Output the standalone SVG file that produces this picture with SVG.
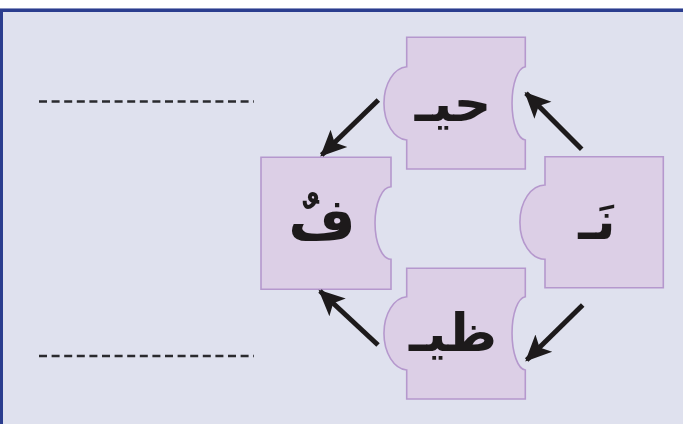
<svg xmlns="http://www.w3.org/2000/svg" width="683" height="424" viewBox="0 0 683 424">
<style>
.piece{fill:#dccfe6;stroke:#b598cd;stroke-width:1.6}
.lbl{font-family:"DejaVu Sans",sans-serif;font-weight:bold;font-size:52px;fill:#1d1a1b;text-anchor:middle}
.arrow{stroke:#1d1a1b;stroke-width:5;fill:none;marker-end:url(#ah)}
.dash{stroke:#2a2a2e;stroke-width:2.6;stroke-dasharray:8 4.6}
</style>
<defs>
<marker id="ah" markerUnits="userSpaceOnUse" markerWidth="28" markerHeight="28" viewBox="0 0 28 28" refX="24" refY="14" orient="auto">
<path d="M0,2 L26,14 L0,26 L6,14 Z" fill="#1d1a1b"/>
</marker>
</defs>
<rect x="0" y="0" width="683" height="424" fill="#ffffff"/>
<rect x="0" y="8" width="683" height="416" fill="#dfe1ee"/>
<rect x="0" y="8" width="683" height="1" fill="#8a94c2"/>
<rect x="0" y="9" width="683" height="3" fill="#2b3d8e"/>
<rect x="0" y="9" width="3" height="415" fill="#2b3d8e"/>
<g id="dashes">
<line class="dash" x1="39" y1="101.5" x2="254" y2="101.5"/>
<line class="dash" x1="39" y1="356" x2="254" y2="356"/>
</g>
<g id="top">
<path class="piece" d="M406.7,37.3 H525.3 V66.7 A14,36.7 0 0 0 525.3,140 V169 H406.7 V140 A24,36.7 0 0 1 406.7,66.7 Z"/>
<text class="lbl" x="453" y="121">حيـ</text>
</g>
<g id="left">
<path class="piece" d="M261,157.3 H391 V186.7 A16,36.3 0 0 0 391,259.3 V289.3 H261 Z"/>
<text class="lbl" x="322" y="240" style="font-size:58px">فٌ</text>
</g>
<g id="right">
<path class="piece" d="M545,156.7 H663.3 V287.7 H545 V259.3 A25,37 0 0 1 545,185 Z"/>
<text class="lbl" x="597" y="239">نَـ</text>
</g>
<g id="bottom">
<path class="piece" d="M406.7,268.3 H525.3 V296.7 A14,36.7 0 0 0 525.3,370 V399 H406.7 V370 A24,36.7 0 0 1 406.7,296.7 Z"/>
<text class="lbl" x="453" y="351">ظيـ</text>
</g>
<g id="connectors">
<line class="arrow" x1="378.3" y1="100" x2="321.7" y2="155"/>
<line class="arrow" x1="581.7" y1="149.3" x2="526" y2="93.3"/>
<line class="arrow" x1="582.7" y1="305" x2="526.7" y2="360"/>
<line class="arrow" x1="378" y1="345" x2="320" y2="291"/>
</g>
</svg>
